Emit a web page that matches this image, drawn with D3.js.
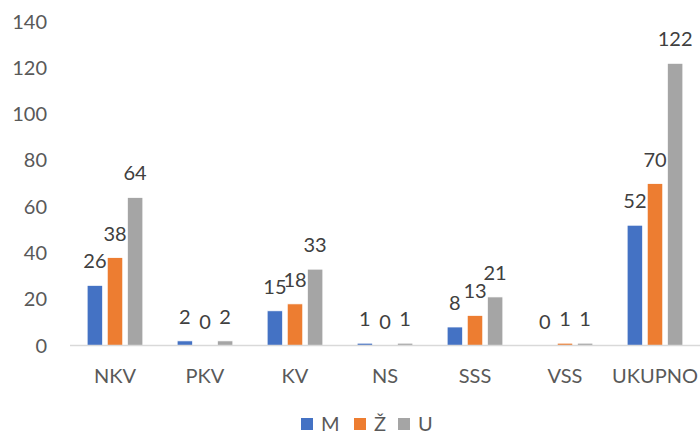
<!DOCTYPE html>
<html>
<head>
<meta charset="utf-8">
<script src="https://cdn.jsdelivr.net/npm/d3@7"></script>
<style>
  body { margin: 0; background: #fff; }
  text { font-family: Lato, "Open Sans", sans-serif; fill: #595959; }
</style>
</head>
<body>
<svg></svg>
<script>
var categories = ["NKV", "PKV", "KV", "NS", "SSS", "VSS", "UKUPNO"];
var seriesNames = ["M", "Ž", "U"];
var valuesM = [26, 2, 15, 1, 8, 0, 52];
var valuesZ = [38, 0, 18, 0, 13, 1, 70];
var valuesU = [64, 2, 33, 1, 21, 1, 122];
var yTicks = [0, 20, 40, 60, 80, 100, 120, 140];
var colors = ["#4472C4", "#ED7D31", "#A5A5A5"];

var width = 700;
var height = 437;
var allValues = [valuesM, valuesZ, valuesU];

var svg = d3.select("svg")
    .attr("width", width)
    .attr("height", height);

var x0 = d3.scaleBand()
    .domain(categories)
    .range([70, 700])
    .paddingInner(0.33)
    .paddingOuter(0.165);

var x1 = d3.scaleBand()
    .domain(seriesNames)
    .range([0, x0.bandwidth()])
    .paddingInner(0.23)
    .paddingOuter(0.115);

var y = d3.scaleLinear()
    .domain([0, 140])
    .range([345.5, 21.7]);

var color = d3.scaleOrdinal()
    .domain(seriesNames)
    .range(colors);

// y tick labels
svg.append("g")
  .selectAll("text")
  .data(yTicks)
  .enter()
  .append("text")
    .attr("x", 47)
    .attr("y", d => y(d))
    .attr("dy", "0.35em")
    .style("text-anchor", "end")
    .style("font-size", "20px")
    .text(d => d);

var rows = [];
categories.forEach((c, i) => {
  seriesNames.forEach((s, j) => {
    rows.push({ cat: c, series: s, value: allValues[j][i] });
  });
});

// bars
svg.append("g")
  .selectAll("rect")
  .data(rows)
  .enter()
  .append("rect")
    .attr("x", d => x0(d.cat) + x1(d.series))
    .attr("y", d => y(d.value))
    .attr("width", x1.bandwidth())
    .attr("height", d => y(0) - y(d.value))
    .attr("fill", d => color(d.series))
    .attr("stroke", "#fff")
    .attr("stroke-width", 0.75);

// x axis line
svg.append("line")
    .attr("x1", 70)
    .attr("x2", 700)
    .attr("y1", y(0))
    .attr("y2", y(0))
    .attr("stroke", "#d9d9d9")
    .attr("stroke-width", 1.5);

// data labels
svg.append("g")
  .selectAll("text")
  .data(rows)
  .enter()
  .append("text")
    .attr("x", d => x0(d.cat) + x1(d.series) + x1.bandwidth() / 2)
    .attr("y", d => y(d.value) - 17)
    .style("text-anchor", "middle")
    .style("font-size", "20px")
    .style("fill", "#404040")
    .text(d => d.value);

// category labels
svg.append("g")
  .selectAll("text")
  .data(categories)
  .enter()
  .append("text")
    .attr("x", d => x0(d) + x0.bandwidth() / 2)
    .attr("y", 376)
    .attr("dy", "0.35em")
    .style("text-anchor", "middle")
    .style("font-size", "20px")
    .text(d => d);

// legend
var legendX = [301, 354, 398];
var legend = svg.append("g")
  .selectAll("g")
  .data(seriesNames)
  .enter()
  .append("g")
    .attr("transform", (d, i) => `translate(${legendX[i]}, 418)`);

legend.append("rect")
    .attr("width", 12)
    .attr("height", 12)
    .attr("fill", d => color(d));

legend.append("text")
    .attr("x", 20)
    .attr("y", 6)
    .attr("dy", "0.35em")
    .style("font-size", "20px")
    .text(d => d);
</script>
</body>
</html>
